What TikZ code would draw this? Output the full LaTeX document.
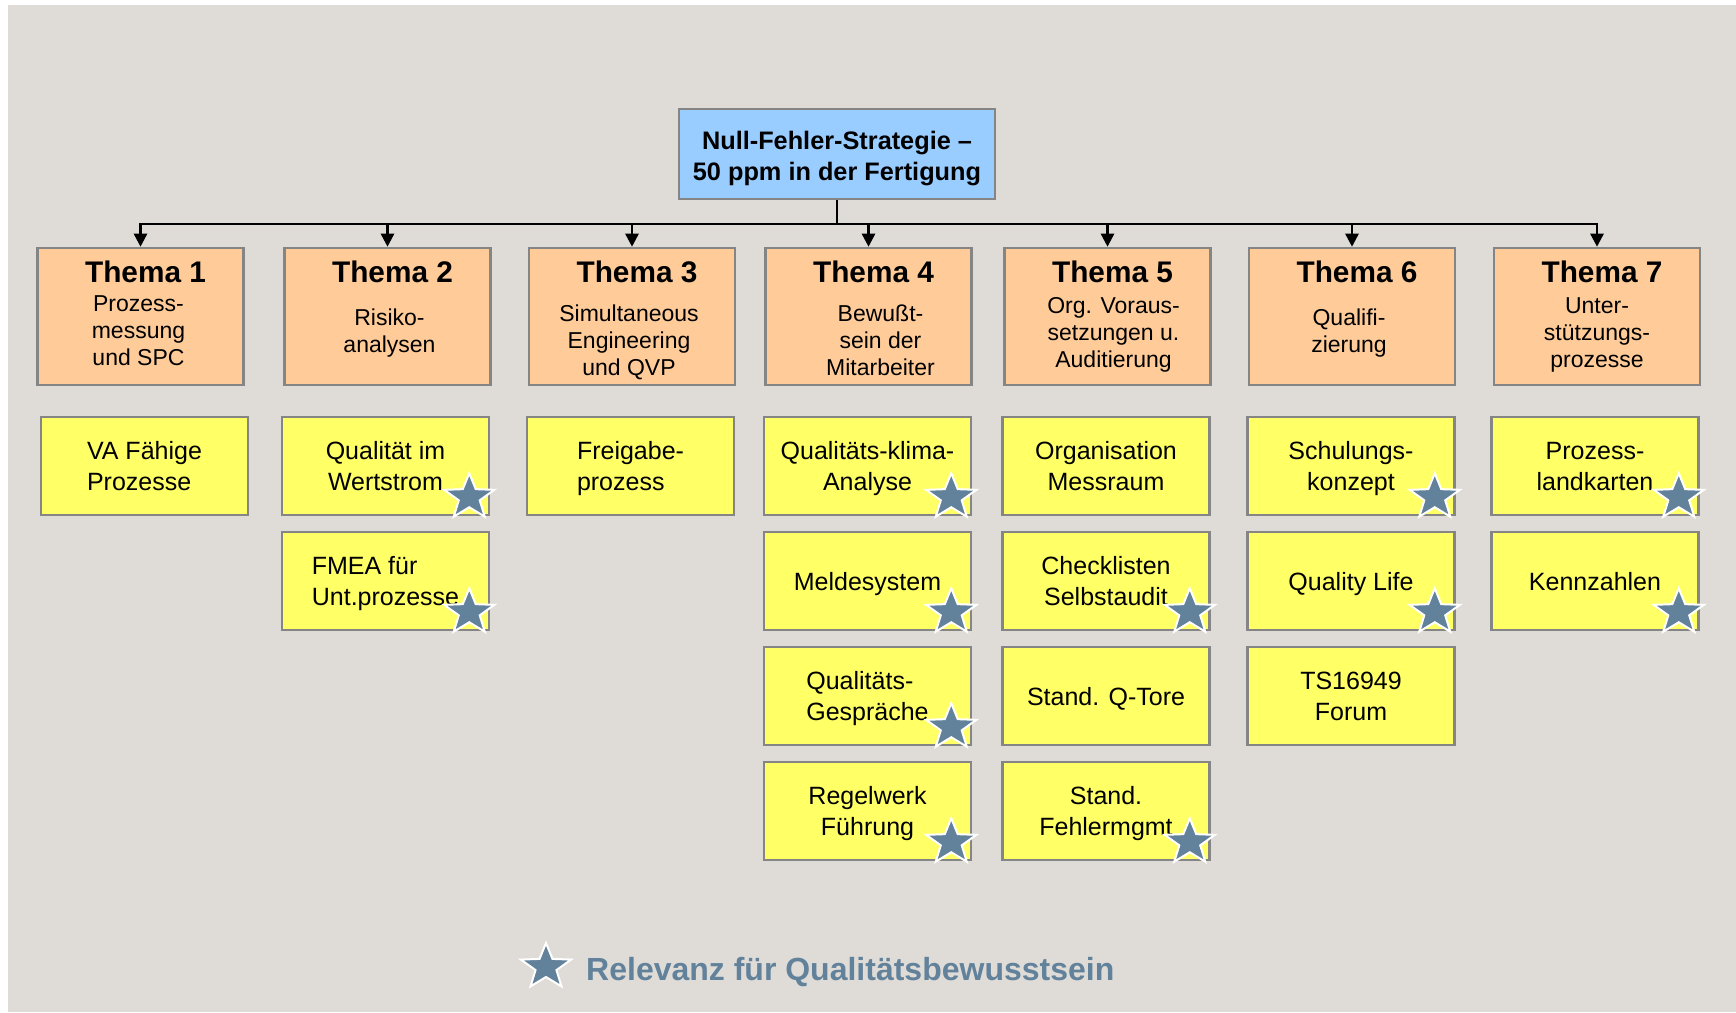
\documentclass[tikz,border=0pt]{standalone}
\usepackage{fontspec}
\setmainfont{Liberation Sans}
\usetikzlibrary{arrows.meta,positioning}
\definecolor{bggrey}{HTML}{DFDCD8}
\definecolor{framegrey}{HTML}{858585}
\definecolor{headblue}{HTML}{99CCFF}
\definecolor{themeorange}{HTML}{FFCC99}
\definecolor{taskyellow}{HTML}{FFFF66}
\definecolor{relblue}{HTML}{62819A}
\tikzstyle{headbox} = [draw=framegrey, line width=2.5pt, fill=headblue, minimum width=316pt, minimum height=90pt]
\tikzstyle{headtext} = [inner sep=0pt, align=center, font=\bfseries\fontsize{25.3}{31}\selectfont]
\tikzstyle{themebox} = [draw=framegrey, line width=2.5pt, fill=themeorange, minimum width=206pt, minimum height=137pt]
\tikzstyle{themetitle} = [inner sep=0pt, font=\bfseries\fontsize{29.8}{36}\selectfont]
\tikzstyle{themesub} = [inner sep=0pt, align=center, font=\fontsize{23}{27}\selectfont]
\tikzstyle{taskbox} = [draw=framegrey, line width=2.5pt, fill=taskyellow, minimum width=207pt, minimum height=98pt, align=center, text depth=0pt, font=\fontsize{25}{31}\selectfont]
\tikzstyle{legendtext} = [inner sep=0pt, text=relblue, font=\bfseries\fontsize{32}{38}\selectfont]
\tikzstyle{diredge} = [line width=2.5pt, ->, >={Triangle[width=13pt,length=13pt]}]
\tikzset{relstar/.pic={
    \filldraw[draw=white, fill=relblue, line width=2pt, xscale=1.1]
        (90:24) -- (126:10) -- (162:24) -- (198:10) -- (234:24) -- (270:10)
        -- (306:24) -- (342:10) -- (18:24) -- (54:10) -- cycle;
}}

\begin{document}
\begin{tikzpicture}[x=1pt,y=1pt,node distance=14.5pt]
    \useasboundingbox (0,0) rectangle (1736,1012);
    \fill[bggrey] (8,0) rectangle (1736,1007);
    \node[headbox] (head) at (837,858) {};
    \node[headtext] (head-text) at ([yshift=-4.5]head.center) {Null-Fehler-Strategie –\\50 ppm in der Fertigung};
    \coordinate (bar) at (837,788);
    \foreach \i/\x/\dx/\dy/\txt in {1/140.5/-2/-14.5/{Prozess-\\messung\\und SPC},
                                2/387.5/2/-17/{Risiko-\\analysen},
                                3/632/-3/-26/{Simultaneous\\Engineering\\und QVP},
                                4/868.5/12/-24/{Bewußt-\\sein der\\Mitarbeiter},
                                5/1107.5/6/-18.5/{Org. Voraus-\\setzungen u.\\Auditierung},
                                6/1352/-3/-17/{Qualifi-\\zierung},
                                7/1597/0/-18.5/{Unter-\\stützungs-\\prozesse}}{
        \node[themebox] (t\i) at (\x,695.5) {};
        \node[themetitle] (t\i-title) at ([xshift=5,yshift=-25.5]t\i.north) {Thema \i};
        \node[themesub] (t\i-sub) at ([xshift=\dx,yshift=\dy]t\i.center) {\txt};
        \draw[diredge] (head.south) -- (bar) -| (t\i.north);
    }
    \node[taskbox, align=left] (q1a) at (144.5,546) {VA Fähige\\Prozesse};
    \node[taskbox] (q2a) at (385.5,546) {Qualität im\\Wertstrom};
    \node[taskbox, align=left, below=of q2a] (q2b) {FMEA für\\Unt.prozesse};
    \node[taskbox, align=left] (q3a) at (630.5,546) {Freigabe-\\prozess};
    \node[taskbox] (q4a) at (867.5,546) {Qualitäts-klima-\\Analyse};
    \node[taskbox, below=of q4a] (q4b) {Meldesystem};
    \node[taskbox, align=left, below=of q4b] (q4c) {Qualitäts-\\Gespräche};
    \node[taskbox, below=of q4c] (q4d) {Regelwerk\\Führung};
    \node[taskbox] (q5a) at (1106,546) {Organisation\\Messraum};
    \node[taskbox, below=of q5a] (q5b) {Checklisten\\Selbstaudit};
    \node[taskbox, below=of q5b] (q5c) {Stand. Q-Tore};
    \node[taskbox, below=of q5c] (q5d) {Stand.\\Fehlermgmt};
    \node[taskbox] (q6a) at (1351,546) {Schulungs-\\konzept};
    \node[taskbox, below=of q6a] (q6b) {Quality Life};
    \node[taskbox, below=of q6b] (q6c) {TS16949\\Forum};
    \node[taskbox] (q7a) at (1595,546) {Prozess-\\landkarten};
    \node[taskbox, below=of q7a] (q7b) {Kennzahlen};
    \foreach \q in {q2a,q2b,q4a,q4b,q4c,q4d,q5b,q5d,q6a,q6b,q7a,q7b}{
        \pic at ([xshift=-21,yshift=19]\q.south east) {relstar};
    }
    \pic at (546,45) {relstar};
    \node[legendtext, anchor=west] (legend) at (586,40) {Relevanz für Qualitätsbewusstsein};
\end{tikzpicture}
\end{document}
